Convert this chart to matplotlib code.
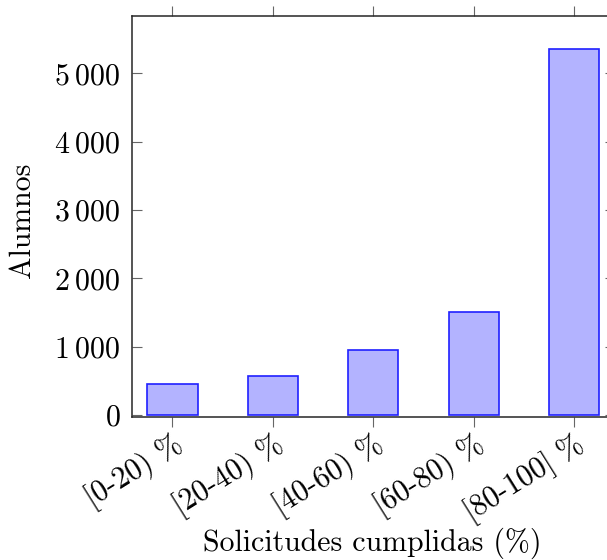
import numpy as np
import matplotlib
matplotlib.use("Agg")
import matplotlib.pyplot as plt
from matplotlib.ticker import FuncFormatter

plt.rcParams['font.family'] = ['cmr10', 'DejaVu Serif']
plt.rcParams['axes.formatter.use_mathtext'] = True
plt.rcParams['mathtext.fontset'] = 'cm'

categorias = ["[0-20) %", "[20-40) %", "[40-60) %", "[60-80) %", "[80-100] %"]
alumnos = [458, 575, 955, 1507, 5351]
yticks = [0, 1000, 2000, 3000, 4000, 5000]

fs = 21.5
fig = plt.figure(figsize=(6.07, 5.6), dpi=100)
# right spine falls just outside the picture, as in the reference
ax = fig.add_axes([131.7 / 607, 1 - 416.7 / 560, (615 - 131.7) / 607, (416.7 - 15.7) / 560])

x = np.arange(len(categorias))
ax.bar(x, alumnos, width=0.5, color='#b3b3ff', edgecolor='#2020ff', linewidth=1.2, zorder=3)

ax.set_xlim(-0.406, len(categorias) - 1 + 0.406)
ax.set_ylim(-25, 5843)
ax.set_xticks(x)
ax.set_xticklabels(categorias, rotation=32, ha='right', va='top', rotation_mode='anchor')
ax.set_yticks(yticks)
ax.yaxis.set_major_formatter(FuncFormatter(lambda v, p: ("$%s$" % f"{v:,.0f}").replace(",", r"\:")))

for s in ax.spines.values():
    s.set_color('#262626')
    s.set_linewidth(1.1)

ax.tick_params(axis='x', direction='out', length=7.5, width=0.8, color='#666666',
               top=True, labelsize=fs, pad=2)
ax.tick_params(axis='y', direction='in', length=7.5, width=0.8, color='#666666',
               right=True, labelsize=fs, pad=8)

ax.set_ylabel("Alumnos", fontsize=fs)
ax.yaxis.set_label_coords(-0.199, 0.49)
ax.set_xlabel("Solicitudes cumplidas (%)", fontsize=fs)
ax.xaxis.set_label_coords((372 - 131.7) / (615 - 131.7), -(528 - 416.7) / (416.7 - 15.7))

fig.savefig("out.png", dpi=100)
